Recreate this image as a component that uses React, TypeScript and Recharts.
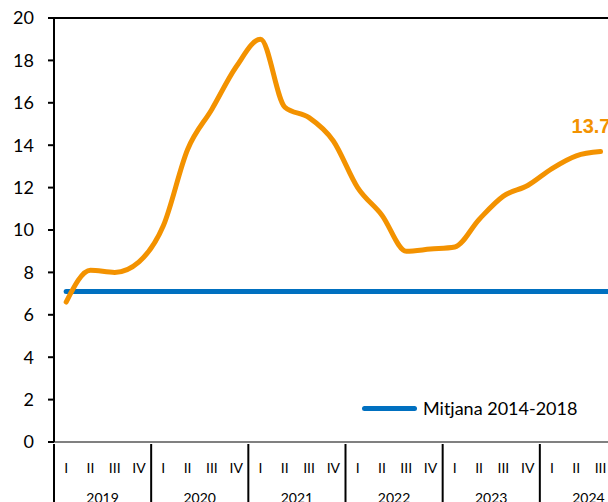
import { LineChart, Line, XAxis, YAxis, ReferenceLine, Legend } from 'recharts';

const YEARS = ['2019', '2020', '2021', '2022', '2023', '2024'];
const QUARTER_LABELS = ['I', 'II', 'III', 'IV'];

// quarterly values, 2019 I .. 2024 III (2024 IV not published yet)
const VALUES: (number | null)[] = [
  6.6, 8.1, 8.0, 8.5,
  10.2, 13.8, 15.7, 17.7,
  19.0, 15.8, 15.3, 14.2,
  12.0, 10.7, 9.0, 9.1,
  9.2, 10.5, 11.6, 12.1,
  12.9, 13.5, 13.7, null,
];
const AVERAGE_2014_2018 = 7.1;
const Y_TICKS = [0, 2, 4, 6, 8, 10, 12, 14, 16, 18, 20];

const ORANGE = '#F39200';
const BLUE = '#0070C0';

const CHART_W = 660;
const CHART_H = 502;
const MARGIN = { top: 18, right: 23, left: 0, bottom: 0 };
const Y_AXIS_W = 54;
const BAND = (CHART_W - MARGIN.left - MARGIN.right - Y_AXIS_W) / (YEARS.length * 4);

const data = YEARS.flatMap((year, yi) =>
  QUARTER_LABELS.map((q, qi) => ({
    key: `${year}-${q}`,
    value: VALUES[yi * 4 + qi] ?? null,
    avg: AVERAGE_2014_2018,
  }))
);
const LAST_INDEX = VALUES.reduce<number>((acc, v, i) => (v == null ? acc : i), 0);

function QuarterTick(props: any) {
  const { x, y, payload } = props;
  const [year, q] = String(payload.value).split('-');
  const qi = QUARTER_LABELS.indexOf(q);
  return (
    <g>
      <text x={x} y={y + 23} textAnchor="middle" dominantBaseline="central" fontSize={14} fill="#000">
        {q}
      </text>
      {qi === 0 && (
        <line x1={x - BAND / 2} x2={x - BAND / 2} y1={y} y2={y + 60} stroke="#000" strokeWidth={2} />
      )}
      {qi === 1 && (
        <text x={x + BAND / 2} y={y + 53} textAnchor="middle" dominantBaseline="central" fontSize={14} fill="#000">
          {year}
        </text>
      )}
    </g>
  );
}

function EndLabel(props: any) {
  const { x, y, index, value } = props;
  if (index !== LAST_INDEX || value == null) return null;
  return (
    <text
      x={x - 29}
      y={y - 19}
      fill={ORANGE}
      fontSize={20}
      fontWeight="bold"
      fontFamily="'Liberation Sans', Arial, sans-serif"
    >
      {value}
    </text>
  );
}

function LegendContent() {
  return (
    <div style={{ display: 'flex', alignItems: 'center', whiteSpace: 'nowrap' }}>
      <span style={{ display: 'inline-block', width: 55, height: 5, borderRadius: 3, background: BLUE }} />
      <span style={{ marginLeft: 6, fontSize: 18, color: '#000' }}>Mitjana 2014-2018</span>
    </div>
  );
}

export default function App() {
  return (
    <div
      style={{
        position: 'absolute',
        left: 0,
        top: 0,
        width: 608,
        height: 502,
        overflow: 'hidden',
        background: '#fff',
        fontFamily: 'Lato, sans-serif',
      }}
    >
      <LineChart width={CHART_W} height={CHART_H} data={data} margin={MARGIN}>
        <XAxis
          dataKey="key"
          scale="band"
          interval={0}
          height={60}
          tickLine={false}
          tickSize={0}
          axisLine={{ stroke: '#808080', strokeWidth: 2 }}
          tick={<QuarterTick />}
        />
        <YAxis
          width={Y_AXIS_W}
          domain={[0, 20]}
          ticks={Y_TICKS}
          interval={0}
          tickSize={6}
          tickMargin={14}
          axisLine={{ stroke: '#000', strokeWidth: 2 }}
          tickLine={{ stroke: '#000', strokeWidth: 2 }}
          tick={{ fontSize: 18, fill: '#000' }}
        />
        <ReferenceLine y={20} stroke="#000" strokeWidth={2} />
        <Legend
          layout="horizontal"
          verticalAlign="middle"
          align="center"
          content={<LegendContent />}
          wrapperStyle={{ position: 'absolute', left: 362, top: 397, width: 'auto' }}
        />
        <Line
          type="monotone"
          dataKey="avg"
          stroke={BLUE}
          strokeWidth={5}
          strokeLinecap="round"
          dot={false}
          activeDot={false}
          isAnimationActive={false}
        />
        <Line
          type="monotone"
          dataKey="value"
          stroke={ORANGE}
          strokeWidth={5}
          strokeLinecap="round"
          dot={false}
          activeDot={false}
          label={<EndLabel />}
          isAnimationActive={false}
        />
      </LineChart>
    </div>
  );
}
